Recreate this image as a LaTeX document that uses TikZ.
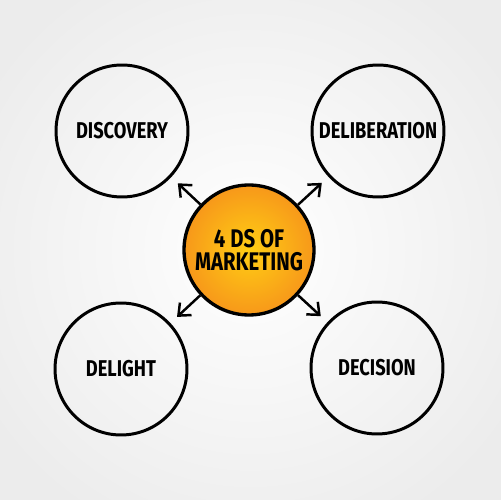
\documentclass[tikz,border=0pt]{standalone}
\usepackage{fontspec}
\setmainfont{Fira Sans}[FakeStretch=0.8]
\usetikzlibrary{arrows.meta}
\definecolor{bgedge}{RGB}{236,236,236}
\definecolor{orin}{RGB}{255,206,20}
\definecolor{orout}{RGB}{247,152,26}
\tikzset{
  outer/.style={circle, draw=black, line width=1.7pt, minimum size=2.64cm, inner sep=0pt,
    font=\fontsize{13}{14}\selectfont\bfseries},
  hub/.style={circle, draw=black, line width=1.9pt, minimum size=2.6cm, inner sep=0pt,
    inner color=orin, outer color=orout, align=center,
    font=\fontsize{14.5}{13}\selectfont\bfseries},
  conn/.style={line width=1.4pt, -{Straight Barb[length=2mm,width=3.4mm,line width=1.4pt]},
    shorten >=0.18cm}
}
\begin{document}
\begin{tikzpicture}[x=0.02cm,y=0.02cm]
\useasboundingbox (0,0) rectangle (500,500);
\shade[inner color=white, outer color=bgedge] (-60,-60) rectangle (560,560);
\node[hub] (c) at (249,250) {4 DS OF\\MARKETING};
\node[outer] (tl) at (122,369) {DISCOVERY};
\node[outer] (tr) at (378,369) {DELIBERATION};
\node[outer] (bl) at (121,131) {DELIGHT};
\node[outer] (br) at (377,132) {DECISION};
\draw[conn] (c) -- (tl);
\draw[conn] (c) -- (tr);
\draw[conn] (c) -- (bl);
\draw[conn] (c) -- (br);
\end{tikzpicture}
\end{document}
